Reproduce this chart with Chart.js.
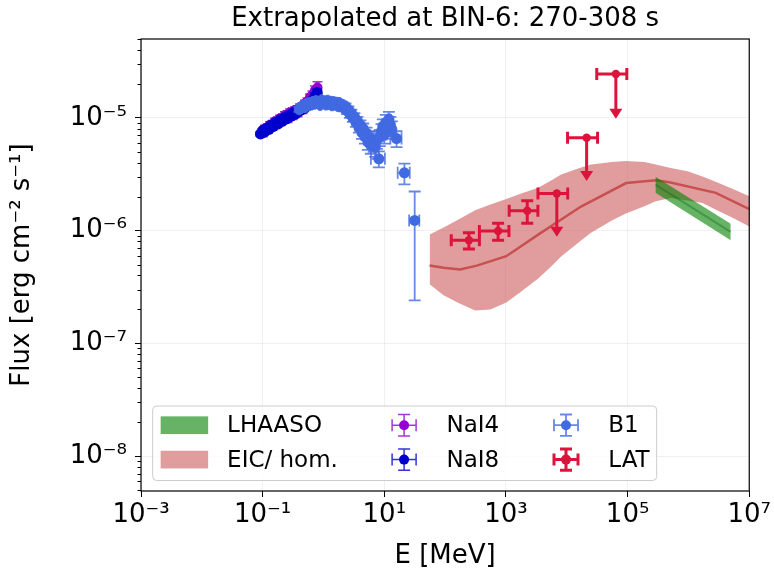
<!DOCTYPE html>
<html>
<head>
<meta charset="utf-8">
<title>SED BIN-6</title>
<script src="https://cdn.jsdelivr.net/npm/chart.js@4/dist/chart.umd.min.js"></script>
<style>
  html, body { margin: 0; padding: 0; background: #fff; }
  #wrap { width: 774px; height: 572px; }
</style>
</head>
<body>
<div id="wrap"><canvas id="sed" width="774" height="572"></canvas></div>
<script>
// ---- data (E in MeV, flux in erg cm^-2 s^-1) ----
const xTicks = [1e-3, 1e-1, 1e1, 1e3, 1e5, 1e7];
const yTicks = [1e-8, 1e-7, 1e-6, 1e-5];

// NaI4
const nai4E  = [0.100, 0.110, 0.120, 0.132, 0.145, 0.160, 0.176, 0.193, 0.212, 0.233, 0.256, 0.282, 0.310, 0.340, 0.374, 0.411, 0.452, 0.497, 0.546, 0.600, 0.660, 0.725, 0.797];
const nai4F  = [7.3e-6, 8.1e-6, 7.8e-6, 8.7e-6, 8.3e-6, 9.3e-6, 8.9e-6, 9.9e-6, 9.5e-6, 1.06e-5, 9.8e-6, 1.12e-5, 1.04e-5, 1.17e-5, 1.10e-5, 1.24e-5, 1.18e-5, 1.34e-5, 1.40e-5, 1.52e-5, 1.60e-5, 1.75e-5, 1.86e-5];
const nai4dE = [0.005, 0.005, 0.006, 0.006, 0.007, 0.008, 0.008, 0.009, 0.010, 0.011, 0.012, 0.014, 0.015, 0.016, 0.018, 0.020, 0.022, 0.024, 0.026, 0.029, 0.032, 0.035, 0.038];
const nai4dF = [5.0e-7, 5.0e-7, 5.0e-7, 5.5e-7, 5.5e-7, 6.0e-7, 6.0e-7, 6.5e-7, 6.5e-7, 7.0e-7, 7.0e-7, 7.5e-7, 7.5e-7, 8.0e-7, 8.0e-7, 8.5e-7, 9.0e-7, 9.5e-7, 1.0e-6, 1.1e-6, 1.3e-6, 1.6e-6, 2.3e-6];

// NaI8
const nai8E  = [0.092, 0.100, 0.108, 0.117, 0.127, 0.138, 0.150, 0.163, 0.177, 0.192, 0.209, 0.227, 0.247, 0.268, 0.291, 0.317, 0.344, 0.374, 0.407, 0.442, 0.480, 0.522, 0.567, 0.616, 0.670, 0.728, 0.790];
const nai8F  = [7.2e-6, 7.7e-6, 7.5e-6, 8.1e-6, 7.9e-6, 8.6e-6, 8.4e-6, 9.1e-6, 8.8e-6, 9.6e-6, 9.3e-6, 1.00e-5, 9.8e-6, 1.05e-5, 1.03e-5, 1.11e-5, 1.08e-5, 1.17e-5, 1.15e-5, 1.24e-5, 1.21e-5, 1.30e-5, 1.29e-5, 1.37e-5, 1.44e-5, 1.56e-5, 1.68e-5];
const nai8dE = [0.004, 0.004, 0.005, 0.005, 0.006, 0.006, 0.007, 0.007, 0.008, 0.009, 0.009, 0.010, 0.011, 0.012, 0.013, 0.014, 0.015, 0.017, 0.018, 0.020, 0.021, 0.023, 0.025, 0.027, 0.030, 0.032, 0.035];
const nai8dF = [3.0e-7, 3.0e-7, 3.0e-7, 3.0e-7, 3.5e-7, 3.5e-7, 3.5e-7, 4.0e-7, 4.0e-7, 4.0e-7, 4.5e-7, 4.5e-7, 4.5e-7, 5.0e-7, 5.0e-7, 5.5e-7, 5.5e-7, 6.0e-7, 6.0e-7, 6.5e-7, 7.0e-7, 7.0e-7, 7.5e-7, 8.0e-7, 9.0e-7, 1.0e-6, 1.2e-6];

// BGO B1
const b1E  = [0.40, 0.43, 0.46, 0.50, 0.53, 0.56, 0.60, 0.63, 0.67, 0.71, 0.75, 0.79, 0.84, 0.88, 0.93, 0.98, 1.04, 1.10, 1.17, 1.24,
              1.31, 1.38, 1.46, 1.55, 1.64, 1.73, 1.83, 1.94, 2.05, 2.17, 2.30, 2.43, 2.57, 2.72, 2.88, 3.05, 3.23, 3.42, 3.62, 3.83,
              4.05, 4.29, 4.50, 4.80, 5.10, 5.37, 5.70, 6.01, 6.40, 6.73, 7.10, 7.54, 8.13, 8.45, 9.00, 9.46, 10.0, 10.6, 11.3, 11.9,
              12.6, 13.3, 15.9, 21.4, 31.6];
const b1F  = [1.19e-5, 1.24e-5, 1.28e-5, 1.25e-5, 1.33e-5, 1.29e-5, 1.36e-5, 1.31e-5, 1.38e-5, 1.33e-5, 1.41e-5, 1.35e-5, 1.39e-5, 1.30e-5, 1.43e-5, 1.36e-5, 1.40e-5, 1.31e-5, 1.42e-5, 1.35e-5,
              1.39e-5, 1.29e-5, 1.38e-5, 1.32e-5, 1.36e-5, 1.27e-5, 1.35e-5, 1.29e-5, 1.30e-5, 1.22e-5, 1.26e-5, 1.16e-5, 1.18e-5, 1.08e-5, 1.10e-5, 1.00e-5, 1.02e-5, 9.1e-6, 9.4e-6, 8.2e-6,
              8.6e-6, 7.4e-6, 8.0e-6, 6.8e-6, 7.3e-6, 6.1e-6, 6.7e-6, 5.7e-6, 6.3e-6, 5.9e-6, 5.5e-6, 6.4e-6, 4.33e-6, 6.7e-6, 7.6e-6, 8.4e-6, 7.1e-6, 9.1e-6, 8.3e-6, 9.7e-6,
              8.7e-6, 7.9e-6, 6.55e-6, 3.25e-6, 1.23e-6];
const b1dE = [0.012, 0.013, 0.014, 0.015, 0.016, 0.017, 0.018, 0.019, 0.020, 0.021, 0.022, 0.024, 0.025, 0.026, 0.028, 0.029, 0.031, 0.033, 0.035, 0.037,
              0.039, 0.041, 0.044, 0.046, 0.049, 0.052, 0.055, 0.058, 0.061, 0.065, 0.069, 0.073, 0.077, 0.082, 0.086, 0.092, 0.097, 0.10, 0.11, 0.11,
              0.12, 0.13, 0.14, 0.14, 0.15, 0.16, 0.17, 0.18, 0.19, 0.20, 0.21, 0.23, 2.1, 0.25, 0.27, 0.28, 0.30, 0.32, 0.34, 0.36,
              0.38, 0.40, 3.3, 4.8, 6.0];
const b1dF = [6e-7, 6e-7, 6e-7, 6e-7, 6e-7, 6e-7, 6e-7, 6e-7, 6e-7, 6e-7, 7e-7, 7e-7, 7e-7, 7e-7, 7e-7, 7e-7, 7e-7, 7e-7, 7e-7, 7e-7,
              8e-7, 8e-7, 8e-7, 8e-7, 8e-7, 8e-7, 8e-7, 8e-7, 8e-7, 8e-7, 8e-7, 8e-7, 8e-7, 8e-7, 8e-7, 8e-7, 8e-7, 8e-7, 8e-7, 8e-7,
              9e-7, 9e-7, 9e-7, 9e-7, 9e-7, 9e-7, 9e-7, 9e-7, 9e-7, 9e-7, 1.0e-6, 1.1e-6, 7e-7, 1.1e-6, 1.2e-6, 1.3e-6, 1.2e-6, 1.5e-6, 1.4e-6, 1.6e-6,
              1.5e-6, 1.4e-6, 1.05e-6, 6.8e-7, 9.9e-7];

// Fermi-LAT (last three are upper limits, dF = arrow length)
const latE  = [246, 743, 2240, 6860, 21200, 64100];
const latF  = [8.2e-7, 9.9e-7, 1.5e-6, 2.13e-6, 6.65e-6, 2.45e-5];
const latdE = [120, 377, 1110, 3500, 10900, 33000];
const latdF = [1.35e-7, 1.7e-7, 3.4e-7, 1.25e-6, 3.9e-6, 1.47e-5];
const latUL = [false, false, false, true, true, true];

// EIC / homogeneous model: band and central curve
const eicBandE  = [55.6, 94.3, 166, 312, 555, 1014, 1786, 3390, 5536, 8070, 17150, 25010, 55200, 93600, 189400, 290000, 510500, 969000, 1.706e6, 3.003e6, 5.638e6, 1e7];
const eicUpper  = [9.21e-7, 1.063e-6, 1.252e-6, 1.514e-6, 1.701e-6, 1.903e-6, 2.129e-6, 2.392e-6, 2.778e-6, 3.141e-6, 3.622e-6, 3.851e-6, 4.053e-6, 4.137e-6, 4.053e-6, 3.851e-6, 3.585e-6, 3.358e-6, 3.015e-6, 2.666e-6, 2.311e-6, 2.015e-6];
const eicLower  = [3.34e-7, 2.67e-7, 2.28e-7, 1.95e-7, 1.99e-7, 2.30e-7, 2.88e-7, 3.75e-7, 4.79e-7, 5.88e-7, 8.15e-7, 9.54e-7, 1.227e-6, 1.415e-6, 1.643e-6, 1.820e-6, 1.942e-6, 1.846e-6, 1.754e-6, 1.505e-6, 1.278e-6, 1.085e-6];
const eicLineE  = [55.6, 94.3, 177, 331, 1014, 3390, 17150, 94600, 293000, 486000, 2.82e6, 1e7];
const eicLineF  = [4.89e-7, 4.67e-7, 4.51e-7, 4.89e-7, 5.92e-7, 9.21e-7, 1.633e-6, 2.638e-6, 2.794e-6, 2.683e-6, 2.16e-6, 1.551e-6];

// LHAASO spectrum band
const lhaasoE   = [2.87e5, 4.96e6];
const lhaasoUp  = [3.0e-6, 1.15e-6];
const lhaasoLo  = [2.16e-6, 8.2e-7];
const lhaasoMid = [2.56e-6, 9.74e-7];

const legendLayout = [['LHAASO', 'EIC/ hom.'], ['NaI4', 'NaI8'], ['B1', 'LAT']];

// ---- helpers ----
const pts = (xs, ys) => xs.map((x, i) => ({ x: x, y: ys[i] }));
const SUP = { '-': '\u207B', '0': '\u2070', '1': '\u00B9', '2': '\u00B2', '3': '\u00B3', '4': '\u2074', '5': '\u2075', '6': '\u2076', '7': '\u2077', '8': '\u2078', '9': '\u2079' };
function powLabel(v) {
    const e = String(Math.round(Math.log10(v)));
    return '10' + e.split('').map(c => SUP[c]).join('');
}

const FONT = 'DejaVu Sans';
Chart.defaults.font.family = FONT;
Chart.defaults.color = '#000';

// error bars (and upper-limit arrows) drawn under each dataset's markers
const errorBars = {
    id: 'errorBars',
    beforeDatasetDraw(chart, args) {
        const ds = chart.data.datasets[args.index];
        if (!ds.errY) return;
        const { ctx, chartArea: a, scales: { x, y } } = chart;
        const cap = ds.capSize;
        ctx.save();
        ctx.beginPath();
        ctx.rect(a.left, a.top, a.width, a.height);
        ctx.clip();
        ctx.lineWidth = ds.errWidth;
        ctx.strokeStyle = ds.errColor;
        ctx.fillStyle = ds.borderColor;
        ds.data.forEach((p, i) => {
            const px = x.getPixelForValue(p.x);
            const py = y.getPixelForValue(p.y);
            const xl = x.getPixelForValue(p.x - ds.errX[i]);
            const xr = x.getPixelForValue(p.x + ds.errX[i]);
            ctx.beginPath();
            ctx.moveTo(xl, py); ctx.lineTo(xr, py);
            ctx.moveTo(xl, py - cap); ctx.lineTo(xl, py + cap);
            ctx.moveTo(xr, py - cap); ctx.lineTo(xr, py + cap);
            if (ds.upLim && ds.upLim[i]) {
                const tip = y.getPixelForValue(p.y - ds.errY[i]);
                ctx.moveTo(px, py); ctx.lineTo(px, tip - 8);
                ctx.stroke();
                ctx.beginPath();
                ctx.moveTo(px - 6.5, tip - 10);
                ctx.lineTo(px + 6.5, tip - 10);
                ctx.lineTo(px, tip);
                ctx.closePath();
                ctx.fill();
            } else {
                const yt = y.getPixelForValue(p.y + ds.errY[i]);
                const yb = y.getPixelForValue(p.y - ds.errY[i]);
                ctx.moveTo(px, yt); ctx.lineTo(px, yb);
                ctx.moveTo(px - cap, yt); ctx.lineTo(px + cap, yt);
                ctx.moveTo(px - cap, yb); ctx.lineTo(px + cap, yb);
                ctx.stroke();
            }
        });
        ctx.restore();
    }
};

// axes frame + minor ticks on the log y axis
const frame = {
    id: 'frame',
    afterDatasetsDraw(chart) {
        const { ctx, chartArea: a, scales: { y } } = chart;
        ctx.save();
        ctx.strokeStyle = '#000';
        ctx.lineWidth = 1.2;
        ctx.strokeRect(a.left, a.top, a.width, a.height);
        ctx.lineWidth = 1;
        ctx.beginPath();
        for (let d = -9; d <= -5; d++) {
            for (let m = 2; m <= 9; m++) {
                const v = m * Math.pow(10, d);
                if (v < y.min || v > y.max) continue;
                const py = Math.round(y.getPixelForValue(v)) + 0.5;
                ctx.moveTo(a.left - 3.5, py);
                ctx.lineTo(a.left, py);
            }
        }
        ctx.stroke();
        ctx.restore();
    }
};

// matplotlib-like legend in the lower left of the axes
const mplLegend = {
    id: 'mplLegend',
    afterDraw(chart) {
        const { ctx, chartArea: a } = chart;
        const bx = a.left + 11.7, by = a.bottom - 85, bw = 504, bh = 74.5;
        ctx.save();
        ctx.beginPath();
        if (ctx.roundRect) ctx.roundRect(bx, by, bw, bh, 4); else ctx.rect(bx, by, bw, bh);
        ctx.fillStyle = 'rgba(255,255,255,0.8)';
        ctx.fill();
        ctx.strokeStyle = '#cccccc';
        ctx.lineWidth = 1;
        ctx.stroke();

        const rowY = [by + 19.2, by + 53.6];
        const cols = [{ sym: bx + 31.7, txt: bx + 74.4 }, { sym: bx + 251.4, txt: bx + 293.8 }, { sym: bx + 413.3, txt: bx + 455.6 }];
        ctx.font = '23px "' + FONT + '"';
        ctx.textBaseline = 'middle';
        legendLayout.forEach((col, c) => col.forEach((label, r) => {
            const ds = chart.data.datasets.find(d => d.label === label);
            const cx = cols[c].sym, cy = rowY[r];
            if (ds.legendPatch) {
                ctx.fillStyle = ds.backgroundColor;
                ctx.fillRect(cx - 23.75, cy - 8.85, 47.5, 17.7);
            } else {
                ctx.strokeStyle = ds.errColor;
                ctx.lineWidth = ds.errWidth;
                ctx.beginPath();
                ctx.moveTo(cx - 12, cy); ctx.lineTo(cx + 12, cy);
                ctx.moveTo(cx - 12, cy - 6); ctx.lineTo(cx - 12, cy + 6);
                ctx.moveTo(cx + 12, cy - 6); ctx.lineTo(cx + 12, cy + 6);
                ctx.moveTo(cx, cy - 10.7); ctx.lineTo(cx, cy + 10.7);
                ctx.moveTo(cx - 6, cy - 10.7); ctx.lineTo(cx + 6, cy - 10.7);
                ctx.moveTo(cx - 6, cy + 10.7); ctx.lineTo(cx + 6, cy + 10.7);
                ctx.stroke();
                ctx.fillStyle = ds.borderColor;
                ctx.beginPath();
                ctx.arc(cx, cy, 5, 0, Math.PI * 2);
                ctx.fill();
            }
            ctx.fillStyle = '#000';
            ctx.fillText(label, cols[c].txt, cy + 1);
        }));
        ctx.restore();
    }
};

function pointSet(label, xs, ys, dxs, dys, color, errColor, radius, errWidth, capSize) {
    return {
        type: 'scatter',
        label: label,
        data: pts(xs, ys),
        errX: dxs,
        errY: dys,
        errColor: errColor,
        errWidth: errWidth,
        capSize: capSize,
        backgroundColor: color,
        borderColor: color,
        pointRadius: radius,
        pointBorderWidth: 0,
        pointHoverRadius: radius
    };
}

const latSet = pointSet('LAT', latE, latF, latdE, latdF, '#DC143C', '#DC143C', 4.2, 3, 6);
latSet.upLim = latUL;

// Chart.js paints higher "order" first, so the list below is given
// descending orders to keep the matplotlib stacking (band under points).
const datasets = [
    { type: 'line', label: 'EIC/ hom.', legendPatch: true, data: pts(eicBandE, eicUpper), order: 10,
      backgroundColor: 'rgba(205,92,92,0.6)', borderWidth: 0, pointRadius: 0, fill: '+1', tension: 0 },
    { type: 'line', label: 'EIC lower', data: pts(eicBandE, eicLower), order: 9,
      borderWidth: 0, pointRadius: 0, fill: false, tension: 0 },
    { type: 'line', label: 'EIC model', data: pts(eicLineE, eicLineF), order: 8,
      borderColor: 'rgb(200,80,80)', borderWidth: 2.5, pointRadius: 0, fill: false, tension: 0 },
    { type: 'line', label: 'LHAASO', legendPatch: true, data: pts(lhaasoE, lhaasoUp), order: 7,
      backgroundColor: 'rgba(0,128,0,0.6)', borderWidth: 0, pointRadius: 0, fill: '+1', tension: 0 },
    { type: 'line', label: 'LHAASO lower', data: pts(lhaasoE, lhaasoLo), order: 6,
      borderWidth: 0, pointRadius: 0, fill: false, tension: 0 },
    { type: 'line', label: 'LHAASO best', data: pts(lhaasoE, lhaasoMid), order: 5,
      borderColor: 'rgba(0,100,0,0.35)', borderWidth: 2, pointRadius: 0, fill: false, tension: 0 },
    Object.assign(pointSet('NaI4', nai4E, nai4F, nai4dE, nai4dF, '#9400D3', 'rgba(148,0,211,0.8)', 5, 1.5, 5), { order: 4 }),
    Object.assign(pointSet('NaI8', nai8E, nai8F, nai8dE, nai8dF, '#0000CD', 'rgba(0,0,205,0.8)', 5.5, 1.5, 5), { order: 3 }),
    Object.assign(pointSet('B1', b1E, b1F, b1dE, b1dF, '#4169E1', 'rgba(65,105,225,0.8)', 5.5, 1.8, 6), { order: 2 }),
    Object.assign(latSet, { order: 1 })
];

const gridColor = 'rgba(0,0,0,0.06)';

new Chart(document.getElementById('sed'), {
    type: 'scatter',
    data: { datasets: datasets },
    plugins: [errorBars, frame, mplLegend],
    options: {
        responsive: false,
        devicePixelRatio: 1,
        animation: false,
        events: [],
        layout: { padding: { left: 0, right: 22, top: 0, bottom: 0 } },
        plugins: {
            legend: { display: false },
            title: { display: false },
            tooltip: { enabled: false }
        },
        scales: {
            x: {
                type: 'logarithmic',
                position: 'bottom',
                min: 1e-3,
                max: 1e7,
                afterBuildTicks: s => { s.ticks = xTicks.map(v => ({ value: v })); },
                afterFit: s => { s.height = 81; },
                ticks: { callback: v => powLabel(v), font: { size: 26 }, padding: 3, maxRotation: 0, autoSkip: false },
                grid: { color: gridColor, tickColor: '#000', tickLength: 6 },
                border: { display: false },
                title: { display: true, text: 'E [MeV]', font: { size: 26 }, padding: { top: 0, bottom: 0 } }
            },
            x2: {
                type: 'linear',
                axis: 'x',
                position: 'top',
                afterFit: s => { s.height = 39; },
                ticks: { display: false },
                grid: { display: false, drawTicks: false },
                border: { display: false },
                title: { display: true, text: 'Extrapolated at BIN-6: 270-308 s', font: { size: 26 }, padding: { top: 4, bottom: 0 } }
            },
            y: {
                type: 'logarithmic',
                position: 'left',
                min: 4.9e-9,
                max: 5.0e-5,
                afterBuildTicks: s => { s.ticks = yTicks.map(v => ({ value: v })); },
                afterFit: s => { s.width = 141; },
                ticks: { callback: v => powLabel(v), font: { size: 26 }, padding: 8, autoSkip: false },
                grid: { color: gridColor, tickColor: '#000', tickLength: 6 },
                border: { display: false },
                title: { display: true, text: 'Flux [erg cm\u207B\u00B2 s\u207B\u00B9]', font: { size: 26 }, padding: { top: 7, bottom: 0 } }
            }
        }
    }
});
</script>
</body>
</html>
